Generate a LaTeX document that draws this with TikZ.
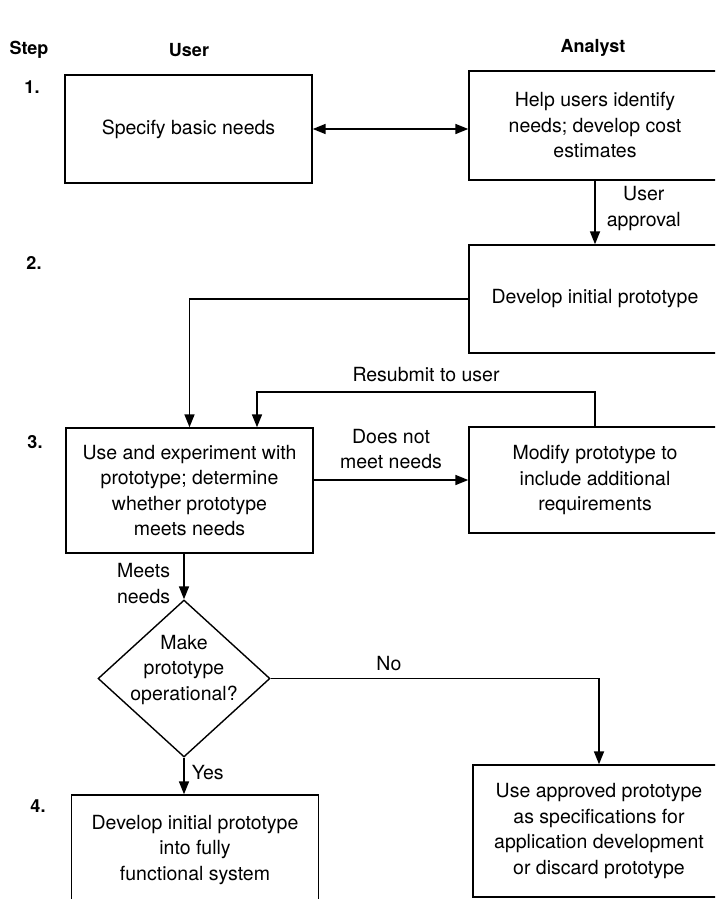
\documentclass[tikz,border=0pt]{standalone}
\usepackage{fontspec}
\setmainfont{TeX Gyre Heros}
\usetikzlibrary{arrows.meta,shapes.geometric}

\begin{document}
\begin{tikzpicture}[x=1pt,y=-1pt,
  txt/.style={font=\fontsize{19.5}{25.5}\selectfont,align=center,inner sep=1pt},
  hdr/.style={font=\fontsize{18}{20}\selectfont\bfseries,inner sep=0pt},
  box/.style={txt,draw,line width=1.4pt,minimum width=247pt},
  abox/.style={box,minimum width=252pt},
  dec/.style={diamond,draw,line width=1.4pt,minimum width=172pt,minimum height=157pt,inner sep=0pt},
  arr/.style={line width=1.7pt,-{Triangle[length=13pt,width=10pt]}},
  both/.style={line width=1.7pt,{Triangle[length=13pt,width=10pt]}-{Triangle[length=13pt,width=10pt]}}]
  \path[use as bounding box,fill=white] (0,0) rectangle (715,899);
  \clip (0,0) rectangle (715,899);
  % column heads and step numbers
  \node[hdr] (hstep) at (29,50) {Step};
  \node[hdr] (huser) at (189,50) {User};
  \node[hdr] (hanal) at (593,48) {Analyst};
  \node[hdr] (n1) at (32,87) {1.};
  \node[hdr] (n2) at (34,263) {2.};
  \node[hdr] (n3) at (35,442) {3.};
  \node[hdr] (n4) at (38,806) {4.};
  % boxes
  \node[box,minimum height=108pt] (spec) at (188.5,129) {Specify basic needs};
  \node[abox,minimum height=109pt] (help) at (595,125.5) {Help users identify\\needs; develop cost\\estimates};
  \node[abox,minimum height=108pt] (proto) at (595,299) {Develop initial prototype};
  \node[box,minimum height=125pt] (use) at (189.5,490.5) {Use and experiment with\\prototype; determine\\whether prototype\\meets needs};
  \node[abox,minimum height=106pt] (modify) at (595,480) {Modify prototype to\\include additional\\requirements};
  \node[dec] (make) at (184,678.5) {};
  \node[txt] (maketxt) at (184,670) {Make\\prototype\\operational?};
  \node[box,minimum height=110pt] (full) at (195,850) {Develop initial prototype\\into fully\\functional system};
  \node[abox,minimum height=132pt] (apply) at (599,831) {Use approved prototype\\as specifications for\\application development\\or discard prototype};
  % connectors
  \coordinate (rs) at (257,392);
  \draw[both] (spec.east) -- (spec.east -| help.west);
  \draw[arr] (help.south) -- (proto.north) node[txt,midway,right=10pt,yshift=4pt] {User\\approval};
  \draw[arr] (proto.west) -| (use.north);
  \draw[arr] (use.east |- modify.west) -- (modify.west) node[txt,midway,above=9pt] {Does not\\meet needs};
  \draw[arr] (modify.north) |- node[txt,pos=0.75,above=8pt] {Resubmit to user} (rs) -- (rs |- use.north);
  \draw[arr] (use.south -| make.north) -- (make.north) node[txt,midway,left=12pt,yshift=-7pt] {Meets\\needs};
  \draw[arr] (make.east) -| (apply.north) node[txt,pos=0.18,above=6pt] {No};
  \draw[arr] (make.south) -- (make.south |- full.north) node[txt,midway,right=6pt,yshift=3pt] {Yes};
\end{tikzpicture}
\end{document}
